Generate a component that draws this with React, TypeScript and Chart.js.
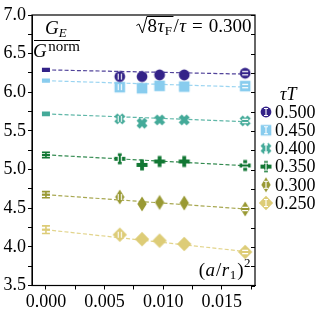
import React, { useEffect, useRef } from "react";
import { Chart, registerables } from "chart.js";

Chart.register(...registerables);

// ---------- data ----------
const tauTLabels = ["0.500", "0.450", "0.400", "0.350", "0.300", "0.250"];
const seriesColors = ["#332288", "#88CCEE", "#44AA99", "#117733", "#999933", "#DDCC77"];
const markerShapes = ["circle", "square", "x", "plus", "thinDiamond", "diamond"];

// (a/r1)^2 of the lattices
const latticeX = [0.0063, 0.0082, 0.0097, 0.0118, 0.017];

const gE_0500 = [6.203, 6.203, 6.225, 6.225, 6.247];
const gE_0450 = [6.066, 6.053, 6.083, 6.074, 6.08];
const gE_0400 = [5.656, 5.6, 5.643, 5.643, 5.63];
const gE_0350 = [5.14, 5.06, 5.105, 5.105, 5.053];
const gE_0300 = [4.645, 4.555, 4.575, 4.567, 4.49];
const gE_0250 = [4.157, 4.1, 4.08, 4.037, 3.934];
const seriesValues = [gE_0500, gE_0450, gE_0400, gE_0350, gE_0300, gE_0250];

// continuum limits (x = 0) with errors
const contValues = [6.29, 6.15, 5.72, 5.19, 4.675, 4.222];
const contErrors = [0.017, 0.017, 0.02, 0.035, 0.04, 0.05];
// fit line value at the end of the fit range
const fitEndX = 0.017;
const fitEndValues = [6.235, 6.068, 5.62, 5.05, 4.49, 3.94];

const xMin = -0.00119;
const xMax = 0.01784;
const yMin = 3.5;
const yMax = 7.0;

const FONT = "'Liberation Serif', 'DejaVu Serif', serif";

function hexA(hex: string, a: number) {
  const r = parseInt(hex.slice(1, 3), 16);
  const g = parseInt(hex.slice(3, 5), 16);
  const b = parseInt(hex.slice(5, 7), 16);
  return `rgba(${r},${g},${b},${a})`;
}

function shapePath(ctx: CanvasRenderingContext2D, shape: string) {
  ctx.beginPath();
  const poly = (pts: number[][]) => {
    pts.forEach((p, i) => (i === 0 ? ctx.moveTo(p[0], p[1]) : ctx.lineTo(p[0], p[1])));
    ctx.closePath();
  };
  if (shape === "circle") {
    ctx.arc(0, 0, 5.4, 0, Math.PI * 2);
  } else if (shape === "square") {
    ctx.rect(-5.3, -5.3, 10.6, 10.6);
  } else if (shape === "plus" || shape === "x") {
    const a = shape === "plus" ? 1.9 : 2.2;
    const L = shape === "plus" ? 5.5 : 5.6;
    let pts = [
      [-a, -L], [a, -L], [a, -a], [L, -a], [L, a], [a, a],
      [a, L], [-a, L], [-a, a], [-L, a], [-L, -a], [-a, -a],
    ];
    if (shape === "x") {
      const c = Math.SQRT1_2;
      pts = pts.map(([x, y]) => [c * (x - y), c * (x + y)]);
    }
    poly(pts);
  } else if (shape === "thinDiamond") {
    poly([[0, -7.6], [4.7, 0], [0, 7.6], [-4.7, 0]]);
  } else {
    poly([[0, -7.2], [7.2, 0], [0, 7.2], [-7.2, 0]]);
  }
}

function makeMarker(shape: string, color: string, variant: string): HTMLCanvasElement {
  const c = document.createElement("canvas");
  c.width = 18;
  c.height = 18;
  const ctx = c.getContext("2d")!;
  ctx.translate(9, 9);
  ctx.fillStyle = color;
  shapePath(ctx, shape);
  ctx.fill();
  ctx.strokeStyle = "#ffffff";
  ctx.lineWidth = 1.1;
  if (variant === "first") {
    ctx.beginPath();
    ctx.moveTo(-1.6, -3); ctx.lineTo(-1.6, 3);
    ctx.moveTo(1.6, -3); ctx.lineTo(1.6, 3);
    ctx.stroke();
  } else if (variant === "last") {
    ctx.beginPath();
    ctx.moveTo(-3, -1.6); ctx.lineTo(3, -1.6);
    ctx.moveTo(-3, 1.6); ctx.lineTo(3, 1.6);
    ctx.stroke();
  } else if (variant === "legend") {
    ctx.beginPath();
    ctx.moveTo(0, -3.5); ctx.lineTo(0, 3.5);
    ctx.moveTo(-2, -3.5); ctx.lineTo(2, -3.5);
    ctx.moveTo(-2, 3.5); ctx.lineTo(2, 3.5);
    ctx.stroke();
  }
  return c;
}

function isMultiple(v: number, step: number) {
  const r = v / step;
  return Math.abs(r - Math.round(r)) < 1e-6;
}

type Run = { t: string; font: string; dy?: number; gap?: number };
function runsWidth(ctx: CanvasRenderingContext2D, runs: Run[]) {
  let w = 0;
  runs.forEach((r) => {
    ctx.font = r.font;
    w += ctx.measureText(r.t).width + (r.gap || 0);
  });
  return w;
}
function drawRuns(ctx: CanvasRenderingContext2D, runs: Run[], x: number, y: number) {
  let cx = x;
  runs.forEach((r) => {
    ctx.font = r.font;
    ctx.fillText(r.t, cx, y + (r.dy || 0));
    cx += ctx.measureText(r.t).width + (r.gap || 0);
  });
  return cx;
}

function makeAnnotationPlugin(legendMarkers: HTMLCanvasElement[]) {
  return {
    id: "annotations",
    afterDatasetsDraw(chart: any) {
      const ctx: CanvasRenderingContext2D = chart.ctx;
      const xs = chart.scales.x;
      const ys = chart.scales.y;
      ctx.save();
      contValues.forEach((v, i) => {
        const px = xs.getPixelForValue(0);
        const top = ys.getPixelForValue(v + contErrors[i]);
        const bot = ys.getPixelForValue(v - contErrors[i]);
        ctx.strokeStyle = seriesColors[i];
        ctx.lineWidth = 1.6;
        ctx.beginPath();
        ctx.moveTo(px, top); ctx.lineTo(px, bot);
        ctx.moveTo(px - 4, top); ctx.lineTo(px + 4, top);
        ctx.moveTo(px - 4, bot); ctx.lineTo(px + 4, bot);
        ctx.stroke();
        ctx.lineWidth = 2.2;
        ctx.beginPath();
        ctx.moveTo(px - 4, ys.getPixelForValue(v)); ctx.lineTo(px + 4, ys.getPixelForValue(v));
        ctx.stroke();
      });
      ctx.restore();
    },
    afterDraw(chart: any) {
      const ctx: CanvasRenderingContext2D = chart.ctx;
      const a = chart.chartArea;
      const ys = chart.scales.y;
      ctx.save();
      ctx.strokeStyle = "#000";
      ctx.lineWidth = 1.2;
      ctx.strokeRect(a.left, a.top, a.right - a.left, a.bottom - a.top);
      ctx.lineWidth = 1;
      for (let k = 0; k <= 14; k++) {
        const v = yMin + k * 0.25;
        const py = Math.round(ys.getPixelForValue(v)) + 0.5;
        ctx.beginPath();
        ctx.moveTo(a.right - 4, py);
        ctx.lineTo(a.right, py);
        ctx.stroke();
      }

      ctx.fillStyle = "#000";
      ctx.textBaseline = "alphabetic";
      ctx.textAlign = "left";
      const it18 = `italic 18px ${FONT}`;
      const rm18 = `18px ${FONT}`;
      const it19 = `italic 19px ${FONT}`;
      const rm19 = `19px ${FONT}`;
      const it13 = `italic 13px ${FONT}`;
      const rm13 = `13px ${FONT}`;
      const rm15 = `15px ${FONT}`;

      // fraction G_E / G^norm
      drawRuns(ctx, [{ t: "G", font: it19 }, { t: "E", font: it13, dy: 3 }], 45, 34);
      ctx.lineWidth = 1;
      ctx.beginPath();
      ctx.moveTo(34, 40.5);
      ctx.lineTo(80, 40.5);
      ctx.stroke();
      drawRuns(ctx, [{ t: "G", font: it19, gap: 1.5 }, { t: "norm", font: rm15, dy: -6 }], 33, 57);

      // sqrt(8 tau_F)/tau = 0.300
      const radicand: Run[] = [
        { t: "8", font: rm19, gap: 0.5 },
        { t: "τ", font: it19, gap: 0.5 },
        { t: "F", font: rm13, dy: 3, gap: 1.5 },
      ];
      const rest: Run[] = [
        { t: "/", font: rm19, gap: 0.5 },
        { t: "τ", font: it19, gap: 6 },
        { t: "=", font: rm19, gap: 6 },
        { t: "0.300", font: rm19 },
      ];
      const radW = 11;
      const wRad = runsWidth(ctx, radicand);
      const wRest = runsWidth(ctx, rest);
      const base = 31.5;
      const x0 = 251.5 - (radW + wRad + wRest);
      ctx.lineWidth = 1;
      ctx.beginPath();
      ctx.moveTo(x0, base - 6);
      ctx.lineTo(x0 + 2.5, base - 7.5);
      ctx.lineTo(x0 + 6, base + 1.5);
      ctx.lineTo(x0 + 10.5, base - 15);
      ctx.lineTo(x0 + radW + wRad, base - 15);
      ctx.stroke();
      drawRuns(ctx, radicand, x0 + radW, base);
      drawRuns(ctx, rest, x0 + radW + wRad, base);

      // (a/r_1)^2
      const axisRuns: Run[] = [
        { t: "(", font: rm19, gap: 0.5 },
        { t: "a", font: it19, gap: 1 },
        { t: "/", font: rm19, gap: 0.5 },
        { t: "r", font: it19, gap: 0.5 },
        { t: "1", font: rm13, dy: 3, gap: 1 },
        { t: ")", font: rm19, gap: 0.5 },
        { t: "2", font: rm13, dy: -9 },
      ];
      const wAx = runsWidth(ctx, axisRuns);
      drawRuns(ctx, axisRuns, 250.5 - wAx, 276);

      // legend
      drawRuns(ctx, [{ t: "τ", font: it18 }, { t: "T", font: it18 }], 280, 100);
      ctx.textBaseline = "middle";
      tauTLabels.forEach((lab, i) => {
        const y = 112 + i * 18.2;
        ctx.drawImage(legendMarkers[i], 266 - 9, y - 9);
        ctx.font = rm18;
        ctx.fillText(lab, 275, y + 1);
      });
      ctx.restore();
    },
  };
}

export default function App() {
  const ref = useRef<HTMLCanvasElement | null>(null);

  useEffect(() => {
    const canvas = ref.current;
    if (!canvas) return;

    const markers = seriesColors.map((col, i) => ({
      plain: makeMarker(markerShapes[i], col, "plain"),
      first: makeMarker(markerShapes[i], col, "first"),
      last: makeMarker(markerShapes[i], col, "last"),
      legend: makeMarker(markerShapes[i], col, "legend"),
    }));

    const pointSets = seriesValues.map((vals, i) => ({
      type: "scatter" as const,
      label: tauTLabels[i],
      data: latticeX.map((x, j) => ({ x, y: vals[j] })),
      order: 1,
      showLine: false,
      pointRadius: 6,
      pointStyle: (c: any) =>
        c.dataIndex === 0
          ? markers[i].first
          : c.dataIndex === latticeX.length - 1
          ? markers[i].last
          : markers[i].plain,
    }));

    const fitSets = contValues.map((v, i) => ({
      type: "line" as const,
      label: "fit " + tauTLabels[i],
      data: [
        { x: 0, y: v },
        { x: fitEndX, y: fitEndValues[i] },
      ],
      order: 2,
      borderColor: hexA(seriesColors[i], 0.85),
      borderWidth: 1.2,
      borderDash: [4, 2.2],
      pointRadius: 0,
      fill: false,
    }));

    const chart: any = new Chart(canvas, {
      type: "scatter",
      data: { datasets: [...pointSets, ...fitSets] as any },
      options: {
        animation: false,
        responsive: false,
        maintainAspectRatio: false,
        devicePixelRatio: 1,
        layout: { padding: { left: 0, right: 63, top: 15, bottom: 0 } },
        plugins: { legend: { display: false }, tooltip: { enabled: false } },
        scales: {
          x: {
            type: "linear",
            min: xMin,
            max: xMax,
            afterFit: (s: any) => {
              s.height = 32.5;
            },
            ticks: {
              stepSize: 0.0025,
              includeBounds: false,
              autoSkip: false,
              maxRotation: 0,
              color: "#000",
              padding: 2,
              font: { family: FONT, size: 18 },
              callback: (v: any) => (isMultiple(Number(v), 0.005) ? Number(v).toFixed(3) : ""),
            },
            grid: { drawOnChartArea: false, drawTicks: true, tickLength: 4, color: "#000", lineWidth: 1 },
            border: { display: true, color: "#000", width: 1 },
          },
          y: {
            type: "linear",
            min: yMin,
            max: yMax,
            afterFit: (s: any) => {
              s.width = 32;
            },
            ticks: {
              stepSize: 0.25,
              includeBounds: false,
              autoSkip: false,
              color: "#000",
              padding: 2,
              font: { family: FONT, size: 18 },
              callback: (v: any) => (isMultiple(Number(v), 0.5) ? Number(v).toFixed(1) : ""),
            },
            grid: { drawOnChartArea: false, drawTicks: true, tickLength: 4, color: "#000", lineWidth: 1 },
            border: { display: true, color: "#000", width: 1 },
          },
        },
      },
      plugins: [makeAnnotationPlugin(markers.map((m) => m.legend)) as any],
    });

    return () => chart.destroy();
  }, []);

  return (
    <div style={{ position: "fixed", left: 0, top: 0, width: 318, height: 318, background: "#fff" }}>
      <canvas ref={ref} width={318} height={318} style={{ width: 318, height: 318, display: "block" }} />
    </div>
  );
}
